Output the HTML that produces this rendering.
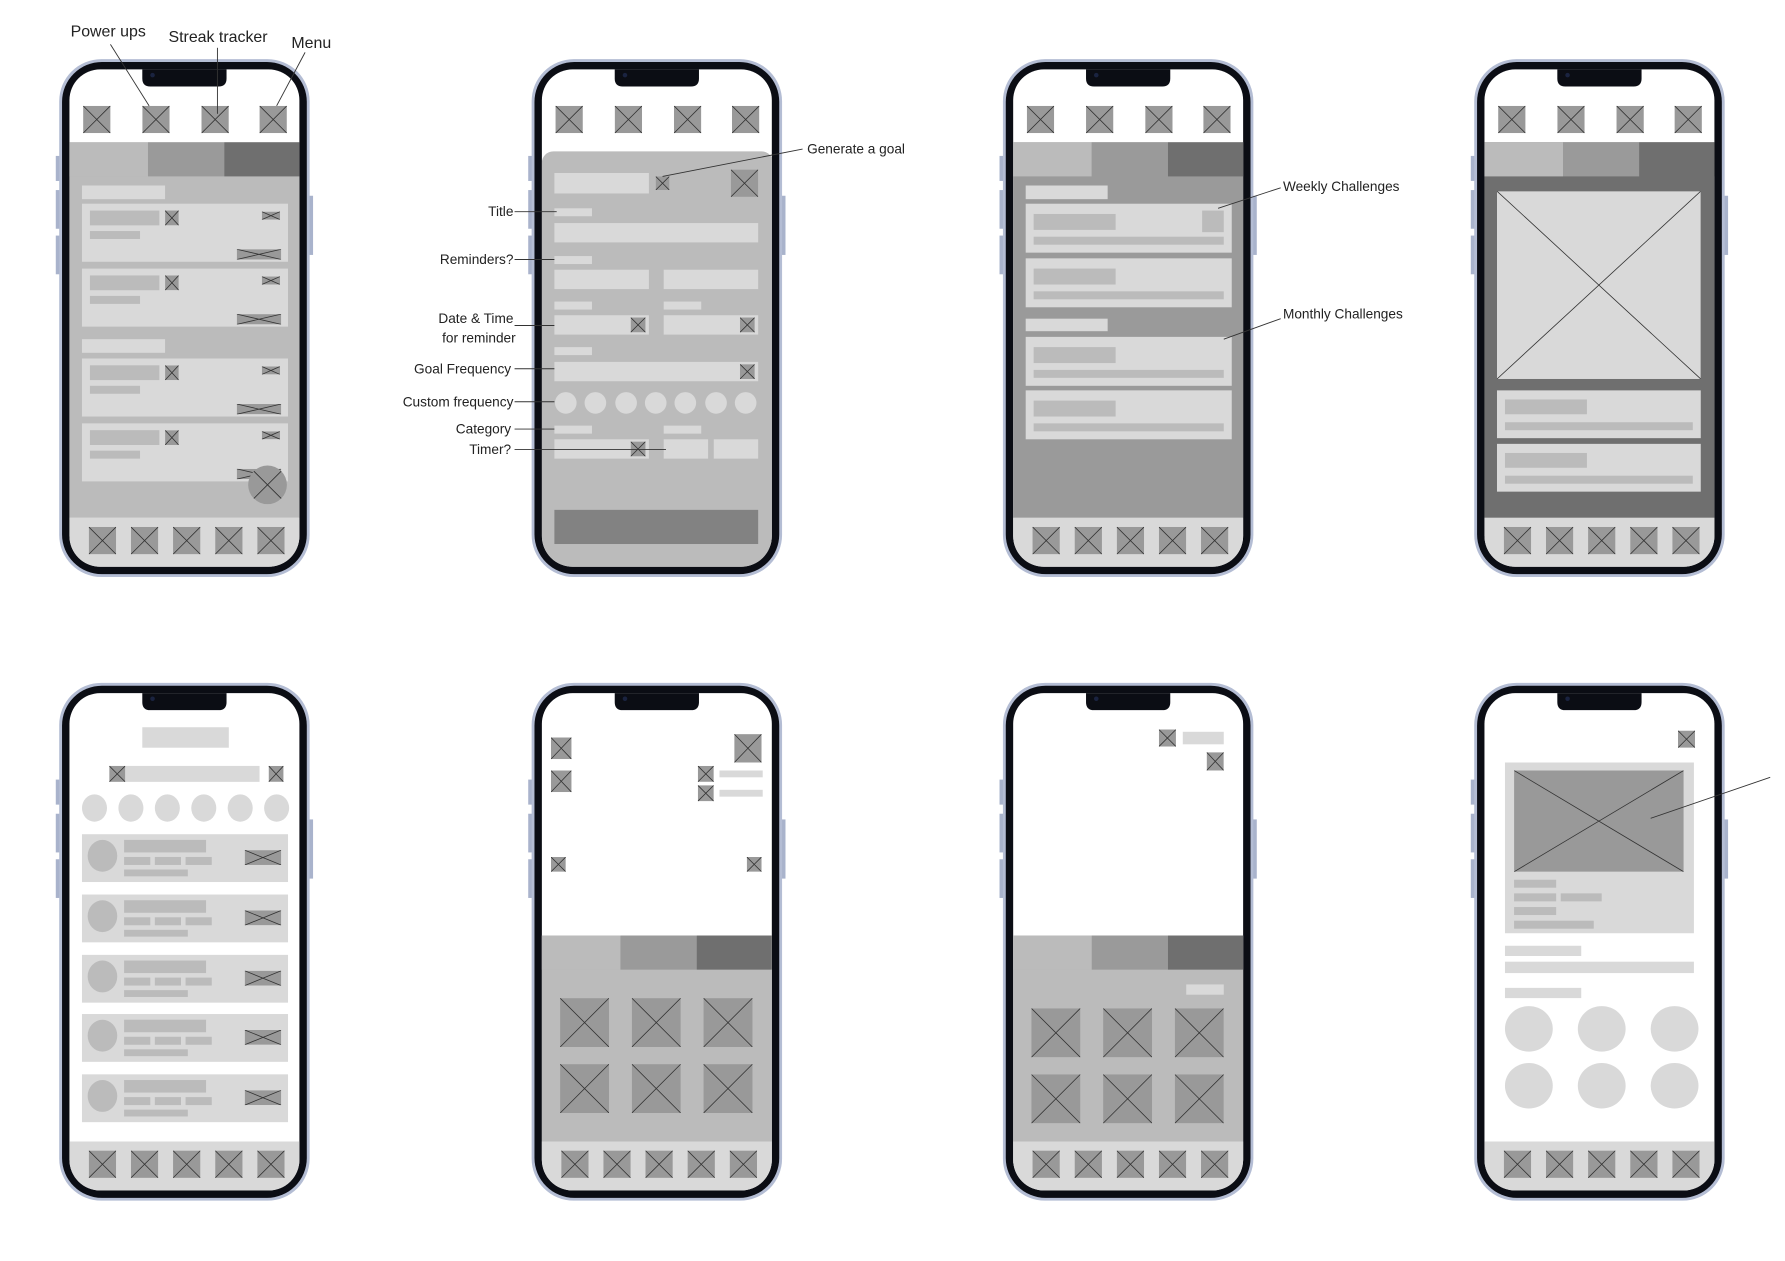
<!DOCTYPE html>
<html><head><meta charset="utf-8"><style>
html,body{margin:0;padding:0;background:#fff;width:1785px;height:1261px;overflow:hidden;}
svg{display:block}
text{font-family:"Liberation Sans",sans-serif;fill:#222}
</style></head><body>
<svg width="1785" height="1261" viewBox="0 0 1568 1108" preserveAspectRatio="none" xmlns="http://www.w3.org/2000/svg">
<defs>
<symbol id="x" viewBox="0 0 10 10" preserveAspectRatio="none"><rect width="10" height="10" fill="#999"/><path d="M0 0L10 10M10 0L0 10" stroke="#333" stroke-width="0.8" vector-effect="non-scaling-stroke" fill="none"/></symbol>
<symbol id="xl" viewBox="0 0 10 10" preserveAspectRatio="none"><rect width="10" height="10" fill="#d9d9d9"/><path d="M0 0L10 10M10 0L0 10" stroke="#333" stroke-width="0.8" vector-effect="non-scaling-stroke" fill="none"/></symbol>
<clipPath id="scr"><rect x="9" y="9" width="202" height="437" rx="27"/></clipPath>
<g id="frame">
<rect x="-3" y="85" width="4" height="22" fill="#a9b3cc"/><rect x="-3" y="115" width="4" height="34" fill="#a9b3cc"/><rect x="-3" y="155" width="4" height="34" fill="#a9b3cc"/><rect x="219" y="120" width="4" height="52" fill="#a9b3cc"/>
<rect x="0" y="0" width="220" height="455" rx="37" fill="#b4bdd4"/>
<rect x="2.5" y="2.5" width="215" height="450" rx="35" fill="#0b0d14"/>
</g>
<g id="notch"><path d="M73 9H147V17Q147 24 140 24H80Q73 24 73 17Z" fill="#0b0d14"/><circle cx="82" cy="14" r="2" fill="#1a2340"/></g>
<g id="topicons"><use href="#x" x="73" y="93" width="24" height="24"/><use href="#x" x="125" y="93" width="24" height="24"/><use href="#x" x="177" y="93" width="24" height="24"/><use href="#x" x="228" y="93" width="24" height="24"/></g>
<g id="nav"><rect x="0" y="403" width="220" height="50" fill="#d9d9d9"/><use href="#x" x="26" y="411" width="24" height="24"/><use href="#x" x="63" y="411" width="24" height="24"/><use href="#x" x="100" y="411" width="24" height="24"/><use href="#x" x="137" y="411" width="24" height="24"/><use href="#x" x="174" y="411" width="24" height="24"/></g>
<g id="tabs"><rect x="0" y="0" width="72" height="30" fill="#bbb"/><rect x="72" y="0" width="67" height="30" fill="#9a9a9a"/><rect x="139" y="0" width="81" height="30" fill="#6f6f6f"/></g>
</defs>

<!-- Phone 1 -->
<g transform="translate(52,52)"><use href="#frame"/><g clip-path="url(#scr)"><rect x="0" y="0" width="220" height="460" fill="#fff"/><use href="#topicons" transform="translate(-52,-52)"/>
<g transform="translate(-52,-52)">
<rect x="52" y="125" width="220" height="330" fill="#bbb"/>
<use href="#tabs" transform="translate(58,125)"/>
<rect x="72" y="163" width="73" height="12" fill="#d9d9d9"/>
<rect x="72" y="298" width="73" height="12" fill="#d9d9d9"/>
<g id="card1"><rect x="72" y="179" width="181" height="51" fill="#d9d9d9"/><rect x="79" y="185" width="61" height="13" fill="#bbb"/><rect x="79" y="203" width="44" height="7" fill="#bbb"/><use href="#x" x="145" y="185" width="12" height="13"/><use href="#x" x="230" y="186" width="16" height="7"/><use href="#x" x="208" y="219" width="39" height="9"/></g>
<use href="#card1" y="57"/><use href="#card1" y="136"/><use href="#card1" y="193"/>
<circle cx="235" cy="426" r="17" fill="#999"/><path d="M223 414L247 438M247 414L223 438" stroke="#333" stroke-width="0.8"/>
</g>
<use href="#nav"/></g><use href="#notch"/></g>
<text x="62" y="32" font-size="14">Power ups</text><line x1="97" y1="39" x2="131" y2="93" stroke="#333" stroke-width="0.8"/>
<text x="148" y="37" font-size="14">Streak tracker</text><line x1="191" y1="42" x2="191" y2="100" stroke="#333" stroke-width="0.8"/>
<text x="256" y="42" font-size="14">Menu</text><line x1="268" y1="46" x2="243" y2="93" stroke="#333" stroke-width="0.8"/>

<!-- Phone 2 -->
<g transform="translate(467,52)"><use href="#frame"/><g clip-path="url(#scr)"><rect x="0" y="0" width="220" height="460" fill="#fff"/><use href="#topicons" transform="translate(-52,-52)"/>
<g transform="translate(-467,-52)">
<rect x="476" y="133" width="203" height="380" rx="10" fill="#bbb"/>
<rect x="487" y="152" width="83" height="18" fill="#d9d9d9"/><use href="#x" x="576" y="155" width="12" height="12"/><use href="#x" x="642" y="149" width="24" height="24"/>
<rect x="487" y="183" width="33" height="7" fill="#d9d9d9"/><rect x="487" y="196" width="179" height="17" fill="#d9d9d9"/>
<rect x="487" y="225" width="33" height="7" fill="#d9d9d9"/><rect x="487" y="237" width="83" height="17" fill="#d9d9d9"/><rect x="583" y="237" width="83" height="17" fill="#d9d9d9"/>
<rect x="487" y="265" width="33" height="7" fill="#d9d9d9"/><rect x="583" y="265" width="33" height="7" fill="#d9d9d9"/>
<rect x="487" y="277" width="83" height="17" fill="#d9d9d9"/><use href="#x" x="554" y="279" width="13" height="13"/><rect x="583" y="277" width="83" height="17" fill="#d9d9d9"/><use href="#x" x="650" y="279" width="13" height="13"/>
<rect x="487" y="305" width="33" height="7" fill="#d9d9d9"/><rect x="487" y="318" width="179" height="17" fill="#d9d9d9"/><use href="#x" x="650" y="320" width="13" height="13"/>
<g fill="#d9d9d9"><circle cx="497" cy="354" r="9.5"/><circle cx="523" cy="354" r="9.5"/><circle cx="550" cy="354" r="9.5"/><circle cx="576" cy="354" r="9.5"/><circle cx="602" cy="354" r="9.5"/><circle cx="629" cy="354" r="9.5"/><circle cx="655" cy="354" r="9.5"/></g>
<rect x="487" y="374" width="33" height="7" fill="#d9d9d9"/><rect x="583" y="374" width="33" height="7" fill="#d9d9d9"/>
<rect x="487" y="386" width="83" height="17" fill="#d9d9d9"/><use href="#x" x="554" y="388" width="13" height="13"/><rect x="583" y="386" width="39" height="17" fill="#d9d9d9"/><rect x="627" y="386" width="39" height="17" fill="#d9d9d9"/>
<rect x="487" y="448" width="179" height="30" fill="#828282"/>
</g></g><use href="#notch"/></g>
<g font-size="12" text-anchor="end">
<text x="451" y="190">Title</text><text x="451" y="232">Reminders?</text><text x="451" y="284">Date &amp; Time</text><text x="453" y="301">for reminder</text><text x="449" y="328">Goal Frequency</text><text x="451" y="357">Custom frequency</text><text x="449" y="381">Category</text><text x="449" y="399">Timer?</text>
</g>
<g stroke="#333" stroke-width="0.8">
<line x1="452" y1="186" x2="489" y2="186"/><line x1="452" y1="228" x2="487" y2="228"/><line x1="452" y1="286" x2="487" y2="286"/><line x1="452" y1="324" x2="487" y2="324"/><line x1="452" y1="353" x2="487" y2="353"/><line x1="452" y1="377" x2="487" y2="377"/><line x1="452" y1="395" x2="585" y2="395"/><line x1="705" y1="131" x2="582" y2="155"/>
</g>
<text x="709" y="135" font-size="12">Generate a goal</text>

<!-- Phone 3 -->
<g transform="translate(881,52)"><use href="#frame"/><g clip-path="url(#scr)"><rect x="0" y="0" width="220" height="460" fill="#fff"/><use href="#topicons" transform="translate(-52,-52)"/>
<g transform="translate(-881,-52)">
<rect x="881" y="125" width="220" height="330" fill="#9a9a9a"/>
<use href="#tabs" transform="translate(887,125)"/>
<rect x="901" y="163" width="72" height="12" fill="#d9d9d9"/><rect x="901" y="280" width="72" height="11" fill="#d9d9d9"/>
<g id="ccard"><rect x="901" y="179" width="181" height="43" fill="#d9d9d9"/><rect x="908" y="188" width="72" height="14" fill="#bbb"/><rect x="908" y="208" width="167" height="7" fill="#bbb"/></g>
<use href="#ccard" y="48"/><use href="#ccard" y="117"/><use href="#ccard" y="164"/>
<rect x="1056" y="185" width="19" height="19" fill="#bbb"/>
</g>
<use href="#nav"/></g><use href="#notch"/></g>
<line x1="1125" y1="165" x2="1070" y2="183" stroke="#333" stroke-width="0.8"/><text x="1127" y="168" font-size="12">Weekly Challenges</text>
<line x1="1125" y1="280" x2="1075" y2="298" stroke="#333" stroke-width="0.8"/><text x="1127" y="280" font-size="12">Monthly Challenges</text>

<!-- Phone 4 -->
<g transform="translate(1295,52)"><use href="#frame"/><g clip-path="url(#scr)"><rect x="0" y="0" width="220" height="460" fill="#fff"/><use href="#topicons" transform="translate(-52,-52)"/>
<g transform="translate(-1295,-52)">
<rect x="1295" y="125" width="220" height="330" fill="#6f6f6f"/>
<use href="#tabs" transform="translate(1301,125)"/>
<use href="#xl" x="1315" y="168" width="179" height="165"/>
<g id="dcard"><rect x="1315" y="343" width="179" height="42" fill="#d9d9d9"/><rect x="1322" y="351" width="72" height="13" fill="#bbb"/><rect x="1322" y="371" width="165" height="7" fill="#bbb"/></g>
<use href="#dcard" y="47"/>
</g>
<use href="#nav"/></g><use href="#notch"/></g>

<!-- Phone 5 -->
<g transform="translate(52,600)"><use href="#frame"/><g clip-path="url(#scr)"><rect x="0" y="0" width="220" height="460" fill="#fff"/>
<g transform="translate(-52,-600)">
<rect x="125" y="639" width="76" height="18" fill="#d9d9d9"/>
<rect x="96" y="673" width="132" height="14" fill="#d9d9d9"/><use href="#x" x="96" y="673" width="14" height="14"/><use href="#x" x="236" y="673" width="13" height="14"/>
<g fill="#d9d9d9"><ellipse cx="83" cy="710" rx="11" ry="12"/><ellipse cx="115" cy="710" rx="11" ry="12"/><ellipse cx="147" cy="710" rx="11" ry="12"/><ellipse cx="179" cy="710" rx="11" ry="12"/><ellipse cx="211" cy="710" rx="11" ry="12"/><ellipse cx="243" cy="710" rx="11" ry="12"/></g>
<g id="litem"><rect x="72" y="733" width="181" height="42" fill="#d9d9d9"/><ellipse cx="90" cy="752" rx="13" ry="14" fill="#bbb"/><rect x="109" y="738" width="72" height="11" fill="#bbb"/><rect x="109" y="753" width="23" height="7" fill="#bbb"/><rect x="136" y="753" width="23" height="7" fill="#bbb"/><rect x="163" y="753" width="23" height="7" fill="#bbb"/><rect x="109" y="764" width="56" height="6" fill="#bbb"/><use href="#x" x="215" y="747" width="32" height="13"/></g>
<use href="#litem" y="53"/><use href="#litem" y="106"/><use href="#litem" y="158"/><use href="#litem" y="211"/>
</g>
<use href="#nav"/></g><use href="#notch"/></g>

<!-- Phone 6 -->
<g transform="translate(467,600)"><use href="#frame"/><g clip-path="url(#scr)"><rect x="0" y="0" width="220" height="460" fill="#fff"/>
<g transform="translate(-467,-600)">
<use href="#x" x="484" y="648" width="18" height="19"/><use href="#x" x="645" y="645" width="24" height="25"/><use href="#x" x="484" y="677" width="18" height="19"/>
<use href="#x" x="613" y="673" width="14" height="14"/><rect x="632" y="677" width="38" height="6" fill="#d9d9d9"/>
<use href="#x" x="613" y="690" width="14" height="14"/><rect x="632" y="694" width="38" height="6" fill="#d9d9d9"/>
<use href="#x" x="484" y="753" width="13" height="13"/><use href="#x" x="656" y="753" width="13" height="13"/>
<rect x="467" y="822" width="220" height="200" fill="#bbb"/>
<use href="#tabs" transform="translate(473,822)"/>
<use href="#x" x="492" y="877" width="43" height="43"/><use href="#x" x="555" y="877" width="43" height="43"/><use href="#x" x="618" y="877" width="43" height="43"/>
<use href="#x" x="492" y="935" width="43" height="43"/><use href="#x" x="555" y="935" width="43" height="43"/><use href="#x" x="618" y="935" width="43" height="43"/>
</g>
<use href="#nav"/></g><use href="#notch"/></g>

<!-- Phone 7 -->
<g transform="translate(881,600)"><use href="#frame"/><g clip-path="url(#scr)"><rect x="0" y="0" width="220" height="460" fill="#fff"/>
<g transform="translate(-881,-600)">
<use href="#x" x="1018" y="641" width="15" height="15"/><rect x="1039" y="643" width="36" height="11" fill="#d9d9d9"/>
<use href="#x" x="1060" y="661" width="15" height="16"/>
<rect x="881" y="822" width="220" height="200" fill="#bbb"/>
<use href="#tabs" transform="translate(887,822)"/>
<rect x="1042" y="865" width="33" height="9" fill="#d9d9d9"/>
<use href="#x" x="906" y="886" width="43" height="43"/><use href="#x" x="969" y="886" width="43" height="43"/><use href="#x" x="1032" y="886" width="43" height="43"/>
<use href="#x" x="906" y="944" width="43" height="43"/><use href="#x" x="969" y="944" width="43" height="43"/><use href="#x" x="1032" y="944" width="43" height="43"/>
</g>
<use href="#nav"/></g><use href="#notch"/></g>

<!-- Phone 8 -->
<g transform="translate(1295,600)"><use href="#frame"/><g clip-path="url(#scr)"><rect x="0" y="0" width="220" height="460" fill="#fff"/>
<g transform="translate(-1295,-600)">
<use href="#x" x="1474" y="642" width="15" height="15"/>
<rect x="1322" y="670" width="166" height="150" fill="#d9d9d9"/>
<use href="#x" x="1330" y="677" width="149" height="89"/>
<g fill="#bbb"><rect x="1330" y="773" width="37" height="7"/><rect x="1330" y="785" width="37" height="7"/><rect x="1371" y="785" width="36" height="7"/><rect x="1330" y="797" width="37" height="7"/><rect x="1330" y="809" width="70" height="7"/></g>
<g fill="#d9d9d9"><rect x="1322" y="831" width="67" height="9"/><rect x="1322" y="845" width="166" height="10"/><rect x="1322" y="868" width="67" height="9"/>
<ellipse cx="1343" cy="904" rx="21" ry="20"/><ellipse cx="1407" cy="904" rx="21" ry="20"/><ellipse cx="1471" cy="904" rx="21" ry="20"/>
<ellipse cx="1343" cy="954" rx="21" ry="20"/><ellipse cx="1407" cy="954" rx="21" ry="20"/><ellipse cx="1471" cy="954" rx="21" ry="20"/></g>
</g>
<use href="#nav"/></g><use href="#notch"/></g>
<line x1="1450" y1="719" x2="1555" y2="683" stroke="#333" stroke-width="0.8"/>
</svg>
</body></html>
